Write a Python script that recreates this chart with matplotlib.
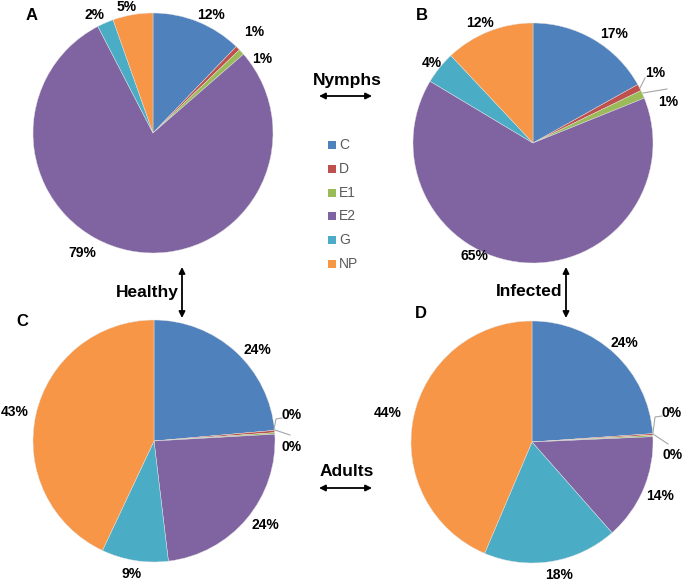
import matplotlib.pyplot as plt

plt.rcParams['font.family'] = ['Liberation Sans', 'DejaVu Sans']

### Data (percent of reads per group)
groups = ["C", "D", "E1", "E2", "G", "NP"]
colors = ["#4F81BD", "#C0504D", "#9BBB59", "#8064A2", "#4BACC6", "#F79646"]

nymph_healthy = [12.2, 0.6, 0.8, 78.8, 2.2, 5.4]
nymph_infected = [16.9, 0.9, 1.1, 64.7, 4.4, 12.0]
adult_healthy = [23.6, 0.3, 0.2, 24.0, 8.9, 43.0]
adult_infected = [23.9, 0.2, 0.2, 14.2, 17.9, 43.6]

### Layout (pixel coordinates, y measured from the top of the image)
W, H = 685, 582
panels = {
    "A": dict(values=nymph_healthy, center=(153, 133), r=120, letter=(32, 15),
              labels=[(211, 15), (254, 32), (262, 59), (82, 253), (95, 15), (127, 7)],
              leaders={}),
    "B": dict(values=nymph_infected, center=(533, 143), r=120, letter=(422, 15),
              labels=[(614, 34), (655, 73), (668, 102), (474, 256), (432, 63), (480, 23)],
              leaders={1: [(640, 88), (645, 78)], 2: [(643, 93), (667, 89)]}),
    "C": dict(values=adult_healthy, center=(154, 441), r=121, letter=(22, 322),
              labels=[(257, 350), (292, 415), (292, 447), (265, 525), (132, 574), (15, 412)],
              leaders={1: [(274, 429), (276, 419), (282, 418)], 2: [(275, 430), (290, 435)]}),
    "D": dict(values=adult_infected, center=(532, 442), r=121, letter=(421, 313),
              labels=[(624, 343), (672, 413), (673, 455), (660, 496), (559, 575), (388, 413)],
              leaders={1: [(653, 433), (655, 417), (662, 416)], 2: [(653, 434), (668, 444)]}),
}


def Y(y):
    return H - y


fig = plt.figure(figsize=(W / 100, H / 100), dpi=100)
ax = fig.add_axes([0, 0, 1, 1])

for letter, p in panels.items():
    cx, cy = p["center"]
    ax.pie(p["values"], colors=colors, startangle=90, counterclock=False,
           center=(cx, Y(cy)), radius=p["r"], frame=True,
           wedgeprops=dict(linewidth=0.3, edgecolor="#e4e4e4"))
    total = sum(p["values"])
    for v, (lx, ly) in zip(p["values"], p["labels"]):
        ax.text(lx, Y(ly), "%d%%" % round(v / total * 100), ha='center', va='center',
                fontsize=10, fontweight='bold')
    for pts in p["leaders"].values():
        ax.plot([q[0] for q in pts], [Y(q[1]) for q in pts], color="#a6a6a6", lw=0.8)
    ax.text(p["letter"][0], Y(p["letter"][1]), letter, ha='center', va='center',
            fontsize=12, fontweight='bold')

# pie(frame=True) touches the limits, so set them afterwards
ax.set_xlim(0, W)
ax.set_ylim(0, H)
ax.set_aspect('equal')
ax.axis('off')

### Group annotations with double arrows
arrow = dict(arrowstyle='<|-|>', color='black', lw=1.3, mutation_scale=9, shrinkA=0, shrinkB=0)
ax.text(347, Y(81), "Nymphs", ha='center', va='center', fontsize=12.5, fontweight='bold')
ax.annotate("", xy=(319, Y(96)), xytext=(372, Y(96)), arrowprops=arrow)
ax.text(347, Y(472), "Adults", ha='center', va='center', fontsize=12.5, fontweight='bold')
ax.annotate("", xy=(319, Y(488)), xytext=(372, Y(488)), arrowprops=arrow)
ax.text(147, Y(292), "Healthy", ha='center', va='center', fontsize=12.5, fontweight='bold')
ax.annotate("", xy=(182, Y(267)), xytext=(182, Y(318)), arrowprops=arrow)
ax.text(529, Y(291), "Infected", ha='center', va='center', fontsize=12.5, fontweight='bold')
ax.annotate("", xy=(566, Y(267)), xytext=(566, Y(318)), arrowprops=arrow)

### Legend
for i, (g, c) in enumerate(zip(groups, colors)):
    ly = 145 + i * 23.8
    ax.scatter([332], [Y(ly)], marker='s', s=30, color=c, linewidths=0)
    ax.text(339, Y(ly), g, ha='left', va='center', fontsize=10, color="#595959")

fig.savefig('out.png', dpi=100, facecolor='white')
